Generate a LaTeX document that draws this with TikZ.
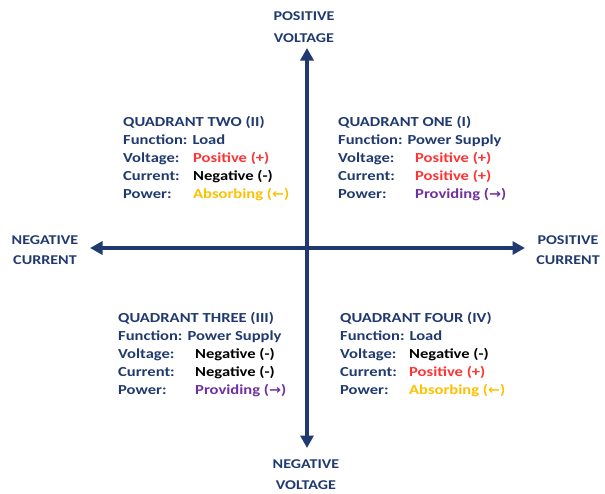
\documentclass[tikz,border=0pt]{standalone}
\usepackage{fontspec}
\setmainfont{Carlito}[BoldFont={Carlito Bold}]
\newfontfamily\cbold{Carlito Bold}[FakeStretch=1.2]
\newfontfamily\arrfont{DejaVu Sans Bold}[FakeStretch=1.1]
\usetikzlibrary{arrows.meta}
\definecolor{navy}{HTML}{203A70}
\definecolor{vred}{HTML}{FF3333}
\definecolor{vorange}{HTML}{FFC000}
\definecolor{vpurple}{HTML}{7030A0}
\newcommand{\larr}{{\arrfont\fontsize{13}{12}\selectfont ←}}
\newcommand{\rarr}{{\arrfont\fontsize{13}{12}\selectfont →}}
\tikzset{
  txt/.style={anchor=base west, inner sep=0pt, font=\cbold\fontsize{13.8}{16}\selectfont},
  lbl/.style={txt, text=navy},
  axlbl/.style={anchor=base, inner sep=0pt, text=navy, font=\cbold\fontsize{13.4}{16}\selectfont},
  axis/.style={draw=navy, line width=3.2pt, -{Triangle[length=12.5pt,width=13pt]}},
}
\begin{document}
\begin{tikzpicture}[x=1pt,y=-1pt]
\useasboundingbox (0,0) rectangle (605,493);
% axes
\coordinate (o) at (307,248);
\coordinate (top) at (307,48);
\coordinate (bot) at (307,448);
\coordinate (lft) at (90,248);
\coordinate (rgt) at (525,248);
\draw[axis] (o) -- (top);
\draw[axis] (o) -- (bot);
\draw[axis] (o) -- (lft);
\draw[axis] (o) -- (rgt);
% axis labels
\node[axlbl] (pv1) at (304,20) {POSITIVE};
\node[axlbl] (pv2) at (304,42) {VOLTAGE};
\node[axlbl] (nv1) at (306,468) {NEGATIVE};
\node[axlbl] (nv2) at (306,489) {VOLTAGE};
\node[axlbl] (nc1) at (45,244) {NEGATIVE};
\node[axlbl] (nc2) at (45,264) {CURRENT};
\node[axlbl] (pc1) at (568,244) {POSITIVE};
\node[axlbl] (pc2) at (568,264) {CURRENT};
% Quadrant II
\node[lbl] (q2t) at (123,126) {QUADRANT TWO (II)};
\node[lbl] (q2f) at (123,144) {Function: Load};
\node[lbl] (q2v) at (123,162) {Voltage:};
\node[lbl] (q2c) at (123,180) {Current:};
\node[lbl] (q2p) at (123,198) {Power:};
\node[txt, text=vred] (q2vv) at (193,162) {Positive (+)};
\node[txt, text=black] (q2cv) at (193,180) {Negative (-)};
\node[txt, text=vorange] (q2pv) at (193,198) {Absorbing (\larr)};
% Quadrant I
\node[lbl] (q1t) at (338,126) {QUADRANT ONE (I)};
\node[lbl] (q1f) at (338,144) {Function: Power Supply};
\node[lbl] (q1v) at (338,162) {Voltage:};
\node[lbl] (q1c) at (338,180) {Current:};
\node[lbl] (q1p) at (338,198) {Power:};
\node[txt, text=vred] (q1vv) at (415,162) {Positive (+)};
\node[txt, text=vred] (q1cv) at (415,180) {Positive (+)};
\node[txt, text=vpurple] (q1pv) at (415,198) {Providing (\rarr)};
% Quadrant III
\node[lbl] (q3t) at (118,322) {QUADRANT THREE (III)};
\node[lbl] (q3f) at (118,340) {Function: Power Supply};
\node[lbl] (q3v) at (118,358) {Voltage:};
\node[lbl] (q3c) at (118,376) {Current:};
\node[lbl] (q3p) at (118,394) {Power:};
\node[txt, text=black] (q3vv) at (195,358) {Negative (-)};
\node[txt, text=black] (q3cv) at (195,376) {Negative (-)};
\node[txt, text=vpurple] (q3pv) at (195,394) {Providing (\rarr)};
% Quadrant IV
\node[lbl] (q4t) at (340,322) {QUADRANT FOUR (IV)};
\node[lbl] (q4f) at (340,340) {Function: Load};
\node[lbl] (q4v) at (340,358) {Voltage:};
\node[lbl] (q4c) at (340,376) {Current:};
\node[lbl] (q4p) at (340,394) {Power:};
\node[txt, text=black] (q4vv) at (409,358) {Negative (-)};
\node[txt, text=vred] (q4cv) at (409,376) {Positive (+)};
\node[txt, text=vorange] (q4pv) at (409,394) {Absorbing (\larr)};
\end{tikzpicture}
\end{document}
